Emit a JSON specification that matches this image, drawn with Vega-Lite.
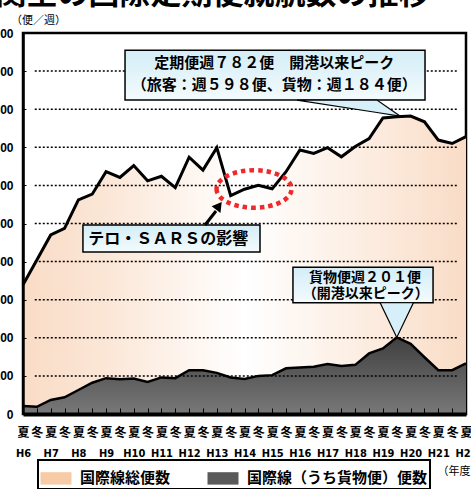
{
  "$schema": "https://vega.github.io/schema/vega-lite/v6.json",
  "width": 443,
  "height": 381,
  "autosize": {"type": "none"},
  "padding": {"left": 23, "top": 33, "right": 5, "bottom": 75},
  "background": "#ffffff",
  "title": {"text": "関空の国際定期便就航数の推移", "frame": "group", "anchor": "middle", "dx": -32, "dy": -3, "offset": 0, "fontSize": 31, "fontWeight": "bold", "font": "Noto Sans CJK JP", "color": "#000000"},
  "config": {
    "view": {"stroke": "#000000", "strokeWidth": 2.5},
    "font": "Noto Sans CJK JP",
    "axis": {"labelOverlap": false, "labelFlush": false}
  },
  "datasets": {
    "flights": [
      {"idx": 0, "period": "H6夏", "total": 339, "cargo": 21},
      {"idx": 1, "period": "H6冬", "total": 404, "cargo": 19},
      {"idx": 2, "period": "H7夏", "total": 470, "cargo": 37},
      {"idx": 3, "period": "H7冬", "total": 487, "cargo": 44},
      {"idx": 4, "period": "H8夏", "total": 562, "cargo": 63},
      {"idx": 5, "period": "H8冬", "total": 577, "cargo": 82},
      {"idx": 6, "period": "H9夏", "total": 636, "cargo": 94},
      {"idx": 7, "period": "H9冬", "total": 621, "cargo": 91},
      {"idx": 8, "period": "H10夏", "total": 652, "cargo": 93},
      {"idx": 9, "period": "H10冬", "total": 612, "cargo": 84},
      {"idx": 10, "period": "H11夏", "total": 624, "cargo": 96},
      {"idx": 11, "period": "H11冬", "total": 594, "cargo": 94},
      {"idx": 12, "period": "H12夏", "total": 674, "cargo": 115},
      {"idx": 13, "period": "H12冬", "total": 640, "cargo": 115},
      {"idx": 14, "period": "H13夏", "total": 699, "cargo": 108},
      {"idx": 15, "period": "H13冬", "total": 573, "cargo": 96},
      {"idx": 16, "period": "H14夏", "total": 590, "cargo": 92},
      {"idx": 17, "period": "H14冬", "total": 600, "cargo": 100},
      {"idx": 18, "period": "H15夏", "total": 591, "cargo": 102},
      {"idx": 19, "period": "H15冬", "total": 636, "cargo": 120},
      {"idx": 20, "period": "H16夏", "total": 693, "cargo": 122},
      {"idx": 21, "period": "H16冬", "total": 684, "cargo": 124},
      {"idx": 22, "period": "H17夏", "total": 699, "cargo": 131},
      {"idx": 23, "period": "H17冬", "total": 675, "cargo": 126},
      {"idx": 24, "period": "H18夏", "total": 702, "cargo": 129},
      {"idx": 25, "period": "H18冬", "total": 723, "cargo": 159},
      {"idx": 26, "period": "H19夏", "total": 777, "cargo": 172},
      {"idx": 27, "period": "H19冬", "total": 780, "cargo": 201},
      {"idx": 28, "period": "H20夏", "total": 782, "cargo": 184},
      {"idx": 29, "period": "H20冬", "total": 767, "cargo": 149},
      {"idx": 30, "period": "H21夏", "total": 719, "cargo": 115},
      {"idx": 31, "period": "H21冬", "total": 710, "cargo": 115},
      {"idx": 32, "period": "H22夏", "total": 728, "cargo": 133}
    ],
    "grid": [{"v": 100}, {"v": 200}, {"v": 300}, {"v": 400}, {"v": 500}, {"v": 600}, {"v": 700}, {"v": 800}, {"v": 900}],
    "boxes": [
      {"x": 7.37, "x2": 29.04, "y": 955, "y2": 824},
      {"x": 4.33, "x2": 17.12, "y": 496, "y2": 425},
      {"x": 19.5, "x2": 29.62, "y": 385, "y2": 292}
    ],
    "pointers": [
      {"p": "a", "x": 19.79, "y": 824, "y2": 824},
      {"p": "a", "x": 25.57, "y": 824, "y2": 791.4},
      {"p": "a", "x": 27.23, "y": 782, "y2": 782},
      {"p": "b", "x": 25.8, "y": 292, "y2": 292},
      {"p": "b", "x": 27.0, "y": 292, "y2": 201},
      {"p": "b", "x": 28.2, "y": 292, "y2": 292}
    ],
    "notes": [
      {"x": 18.15, "y": 921, "label": "定期便週７８２便　開港以来ピーク"},
      {"x": 18.15, "y": 864, "label": "（旅客：週５９８便、貨物：週１８４便）"}
    ],
    "cargonotes": [
      {"x": 24.7, "y": 358, "label": "貨物便週２０１便"},
      {"x": 24.75, "y": 314, "label": "（開港以来ピーク）"}
    ],
    "sars": [{"x": 10.5, "y": 460.6, "label": "テロ・ＳＡＲＳの影響"}],
    "arrow": [{"x": 13.15, "y": 496, "x2": 13.94, "y2": 532.8}],
    "arrowhead": [{"x": 14.15, "y": 546.5}],
    "ellipse": [{"x": 16.69, "y": 590.6}]
  },
  "resolve": {"axis": {"x": "independent", "y": "independent"}},
  "layer": [
    {
      "data": {"name": "flights"},
      "mark": {"type": "area", "color": {"gradient": "linear", "x1": 0, "y1": 0, "x2": 1, "y2": 0, "stops": [{"offset": 0, "color": "#F9DCC6"}, {"offset": 0.18, "color": "#FBE6D6"}, {"offset": 0.5, "color": "#FFFFFF"}, {"offset": 0.8, "color": "#FCEBDE"}, {"offset": 1, "color": "#F9DCC6"}]}},
      "encoding": {
        "x": {"field": "idx", "type": "quantitative", "scale": {"domain": [0, 32], "nice": false, "zero": false},
          "axis": {"orient": "bottom", "values": [0,1,2,3,4,5,6,7,8,9,10,11,12,13,14,15,16,17,18,19,20,21,22,23,24,25,26,27,28,29,30,31,32], "labelExpr": "datum.value % 2 == 0 ? '夏' : '冬'", "title": null, "grid": false, "domain": true, "domainColor": "#000000", "domainWidth": 4, "ticks": true, "tickSize": -6, "tickColor": "#000000", "tickWidth": 1, "labelPadding": 19, "labelBaseline": "top", "labelFont": "Noto Sans CJK JP", "labelFontSize": 12, "labelFontWeight": "bold", "labelColor": "#000000", "labelDx": 2, "labelFlush": false, "labelOverlap": false, "labelBound": false, "zindex": 1}},
        "y": {"field": "total", "type": "quantitative", "scale": {"domain": [0, 1000], "nice": false},
          "axis": {"orient": "left", "values": [0,100,200,300,400,500,600,700,800,900,1000], "grid": false, "domain": true, "domainColor": "#000000", "domainWidth": 2.5, "ticks": true, "tickSize": -3, "tickColor": "#000000", "labelPadding": 13, "labelFont": "Liberation Sans", "labelFontSize": 12, "labelFontWeight": "bold", "labelColor": "#000000", "labelFlush": false, "labelOverlap": false, "title": "（便／週）", "titleAngle": 0, "titleX": 15, "titleY": -13, "titleAlign": "center", "titleBaseline": "middle", "titleFont": "Noto Sans CJK JP", "titleFontSize": 11, "titleFontWeight": "normal", "titleColor": "#000000", "zindex": 1}}
      }
    },
    {
      "data": {"name": "flights"},
      "mark": {"type": "area", "color": {"gradient": "linear", "x1": 0, "y1": 0, "x2": 0, "y2": 1, "stops": [{"offset": 0, "color": "#404040"}, {"offset": 1, "color": "#787878"}]}},
      "encoding": {
        "x": {"field": "idx", "type": "quantitative", "axis": null},
        "y": {"field": "cargo", "type": "quantitative", "axis": null}
      }
    },
    {
      "data": {"name": "grid"},
      "mark": {"type": "rule", "color": "#000000", "strokeWidth": 1.5, "strokeDash": [2, 2]},
      "encoding": {
        "x": {"datum": 0.85, "type": "quantitative", "axis": null},
        "x2": {"datum": 31.45},
        "y": {"field": "v", "type": "quantitative", "axis": null}
      }
    },
    {
      "data": {"name": "flights"},
      "mark": {"type": "line", "color": "#000000", "strokeWidth": 2.5, "strokeJoin": "miter"},
      "encoding": {
        "x": {"field": "idx", "type": "quantitative", "axis": null},
        "y": {"field": "cargo", "type": "quantitative", "axis": null}
      }
    },
    {
      "data": {"name": "flights"},
      "mark": {"type": "line", "color": "#000000", "strokeWidth": 3, "strokeJoin": "miter"},
      "encoding": {
        "x": {"field": "idx", "type": "quantitative",
          "axis": {"orient": "bottom", "values": [0,1,2,3,4,5,6,7,8,9,10,11,12,13,14,15,16,17,18,19,20,21,22,23,24,25,26,27,28,29,30,31,32], "labelExpr": "datum.value % 2 == 0 ? 'H' + (6 + datum.value / 2) : ''", "grid": false, "domain": false, "ticks": false, "labelPadding": 33, "labelBaseline": "top", "labelFont": "Liberation Sans Narrow, DejaVu Sans Condensed, sans-serif", "labelFontSize": 11, "labelFontWeight": "bold", "labelColor": "#000000", "labelDx": -3.5, "labelFlush": false, "labelOverlap": false, "labelBound": false, "title": "（年度）", "titleX": 414, "titleY": 57, "titleAlign": "left", "titleBaseline": "middle", "titleFont": "Noto Sans CJK JP", "titleFontSize": 11, "titleFontWeight": "normal", "titleColor": "#000000"}},
        "y": {"field": "total", "type": "quantitative", "axis": null}
      }
    },
    {
      "data": {"name": "flights"},
      "transform": [{"fold": ["total", "cargo"], "as": ["series", "value"]}],
      "mark": {"type": "point", "filled": true, "opacity": 0},
      "encoding": {
        "x": {"field": "idx", "type": "quantitative", "axis": null},
        "y": {"field": "value", "type": "quantitative", "axis": null},
        "fill": {"field": "series", "type": "nominal", "scale": {"domain": ["total", "cargo"], "range": ["#F6CBA6", "#5A5A5A"]},
          "legend": {"orient": "none", "legendX": 15, "legendY": 427, "direction": "horizontal", "title": null, "labelExpr": "datum.value == 'total' ? '国際線総便数' : '国際線（うち貨物便）便数'", "labelLimit": 400, "symbolType": "M-1,-0.4H1V0.4H-1Z", "symbolSize": 961, "symbolStrokeColor": "#000000", "symbolStrokeWidth": 1, "labelFont": "Noto Sans CJK JP", "labelFontSize": 15, "labelFontWeight": "bold", "labelColor": "#000000", "labelOffset": 8, "columnPadding": 34, "padding": 2, "strokeColor": "#000000", "fillColor": "#ffffff",
            "encode": {"legend": {"update": {"stroke": {"value": "#000000"}, "strokeWidth": {"value": 2}}}, "symbols": {"update": {"opacity": {"value": 1}, "fill": {"signal": "datum.value == 'total' ? {gradient: 'linear', x1: 0, y1: 0, x2: 1, y2: 0, stops: [{offset: 0, color: '#FFFFFF'}, {offset: 1, color: '#F3BF95'}]} : {gradient: 'linear', x1: 0, y1: 0, x2: 1, y2: 0, stops: [{offset: 0, color: '#3C3C3C'}, {offset: 1, color: '#9C9C9C'}]}"}}}}}}
      }
    },
    {
      "data": {"name": "boxes"},
      "mark": {"type": "rect", "color": {"gradient": "linear", "x1": 0, "y1": 0, "x2": 0, "y2": 1, "stops": [{"offset": 0, "color": "#D3EDF7"}, {"offset": 1, "color": "#F4FBFD"}]}, "stroke": "#000000", "strokeWidth": 1.5},
      "encoding": {
        "x": {"field": "x", "type": "quantitative", "axis": null},
        "x2": {"field": "x2"},
        "y": {"field": "y", "type": "quantitative", "axis": null},
        "y2": {"field": "y2"}
      }
    },
    {
      "data": {"name": "pointers"},
      "mark": {"type": "area", "color": "#D6EFF8", "stroke": "#000000", "strokeWidth": 1.2},
      "encoding": {
        "x": {"field": "x", "type": "quantitative", "axis": null},
        "y": {"field": "y", "type": "quantitative", "axis": null},
        "y2": {"field": "y2"},
        "detail": {"field": "p", "type": "nominal"}
      }
    },
    {
      "data": {"name": "notes"},
      "mark": {"type": "text", "font": "Noto Sans CJK JP", "fontWeight": "bold", "fontSize": 15, "color": "#000000", "align": "center", "baseline": "middle"},
      "encoding": {
        "x": {"field": "x", "type": "quantitative", "axis": null},
        "y": {"field": "y", "type": "quantitative", "axis": null},
        "text": {"field": "label"}
      }
    },
    {
      "data": {"name": "cargonotes"},
      "mark": {"type": "text", "font": "Noto Sans CJK JP", "fontWeight": "bold", "fontSize": 14, "color": "#000000", "align": "center", "baseline": "middle"},
      "encoding": {
        "x": {"field": "x", "type": "quantitative", "axis": null},
        "y": {"field": "y", "type": "quantitative", "axis": null},
        "text": {"field": "label"}
      }
    },
    {
      "data": {"name": "sars"},
      "mark": {"type": "text", "font": "Noto Sans CJK JP", "fontWeight": "bold", "fontSize": 16, "color": "#000000", "align": "center", "baseline": "middle"},
      "encoding": {
        "x": {"field": "x", "type": "quantitative", "axis": null},
        "y": {"field": "y", "type": "quantitative", "axis": null},
        "text": {"field": "label"}
      }
    },
    {
      "data": {"name": "arrow"},
      "mark": {"type": "rule", "color": "#000000", "strokeWidth": 3},
      "encoding": {
        "x": {"field": "x", "type": "quantitative", "axis": null},
        "y": {"field": "y", "type": "quantitative", "axis": null},
        "x2": {"field": "x2"},
        "y2": {"field": "y2"}
      }
    },
    {
      "data": {"name": "arrowhead"},
      "mark": {"type": "point", "shape": "triangle-up", "angle": 36.6, "size": 121, "filled": true, "color": "#000000", "opacity": 1},
      "encoding": {
        "x": {"field": "x", "type": "quantitative", "axis": null},
        "y": {"field": "y", "type": "quantitative", "axis": null}
      }
    },
    {
      "data": {"name": "ellipse"},
      "mark": {"type": "point", "shape": "M-1,0A1,0.5,0,1,0,1,0A1,0.5,0,1,0,-1,0Z", "size": 5625, "filled": false, "stroke": "#EE2A2A", "strokeWidth": 4.5, "strokeDash": [4.5, 4], "opacity": 1},
      "encoding": {
        "x": {"field": "x", "type": "quantitative", "axis": null},
        "y": {"field": "y", "type": "quantitative", "axis": null}
      }
    }
  ]
}
